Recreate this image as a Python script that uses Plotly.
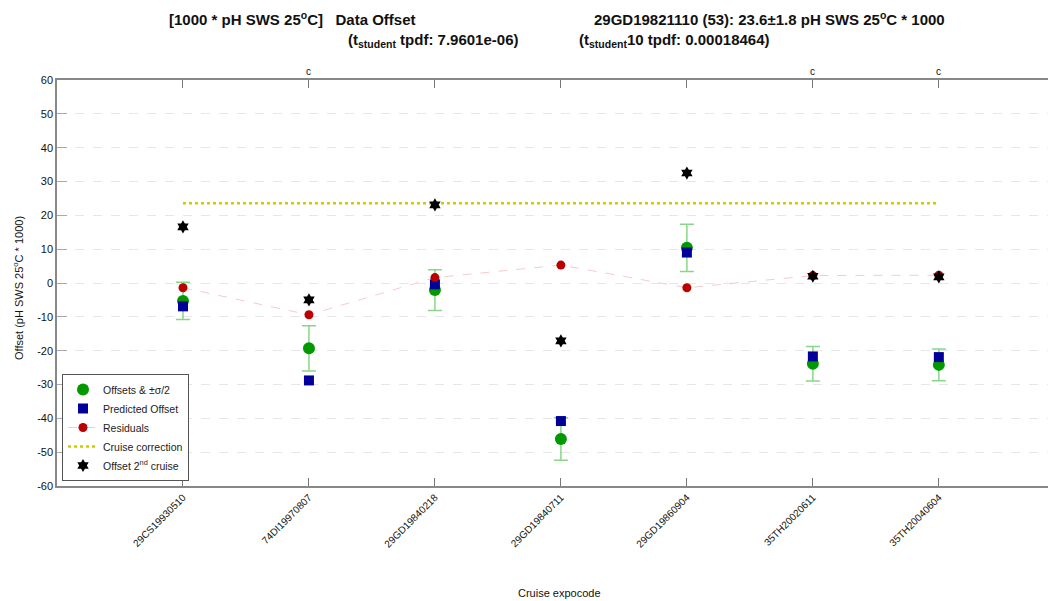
import plotly.graph_objects as go

cruises = ["29CS19930510", "74DI19970807", "29GD19840218", "29GD19840711",
           "29GD19860904", "35TH20020611", "35TH20040604"]
offsets = [-5.3, -19.3, -2.1, -46.1, 10.4, -23.9, -24.2]
err_half = [5.5, 6.7, 6.0, 6.3, 7.0, 5.1, 4.7]
predicted = [-6.9, -28.8, -0.4, -40.8, 9.0, -21.7, -21.9]
residuals = [-1.4, -9.4, 1.6, 5.3, -1.4, 2.2, 2.3]
second_cruise = [16.6, -5.0, 23.1, -17.1, 32.5, 2.0, 1.8]
correction = 23.6
top_labels = ["", "c", "", "", "", "c", "c"]
y_ticks = [-60, -50, -40, -30, -20, -10, 0, 10, 20, 30, 40, 50, 60]

xs = list(range(1, len(cruises) + 1))
FONT = "Liberation Sans, Arial, sans-serif"

fig = go.Figure()
fig.add_trace(go.Scatter(
    x=xs, y=offsets, mode="markers", name="Offsets & ±σ/2",
    marker=dict(symbol="circle", size=12, color="#009900"),
    error_y=dict(type="data", array=err_half, visible=True,
                 color="rgba(40,180,40,0.55)", thickness=1.5, width=7),
))
fig.add_trace(go.Scatter(
    x=xs, y=predicted, mode="markers", name="Predicted Offset",
    marker=dict(symbol="square", size=10, color="#000099"),
))
fig.add_trace(go.Scatter(
    x=xs, y=residuals, mode="lines+markers", name="Residuals",
    marker=dict(symbol="circle", size=9, color="#bb0000"),
    line=dict(color="rgba(230,140,140,0.45)", width=1, dash="dash"),
))
fig.add_trace(go.Scatter(
    x=[xs[0], xs[-1]], y=[correction, correction], mode="lines",
    name="Cruise correction",
    line=dict(color="#cccc00", width=2.5, dash="dot"),
))
fig.add_trace(go.Scatter(
    x=xs, y=second_cruise, mode="markers", name="Offset 2<sup>nd</sup> cruise",
    marker=dict(symbol="hexagram", size=10, color="black"),
))

# screen pixel -> paper coordinates of the plot area (57..1056, 80..486)
def px_x(p):
    return (p - 57) / 999.0

def px_y(p):
    return (486 - p) / 406.0

# page body has an 8px default margin: figure is drawn at (8, 8)
fig.update_layout(
    width=1048, height=593,
    margin=dict(l=49, r=0, t=72, b=115),
    paper_bgcolor="white", plot_bgcolor="white",
    font=dict(family=FONT, size=11, color="#222222"),
    showlegend=True,
    legend=dict(x=px_x(62), y=px_y(481), xanchor="left", yanchor="bottom",
                bordercolor="#555555", borderwidth=1, bgcolor="white",
                font=dict(size=10.5, family=FONT), tracegroupgap=0),
)
fig.update_xaxes(
    range=[0, 7.93], tickvals=xs, ticktext=cruises, tickangle=-45,
    ticks="inside", ticklen=8, tickcolor="#777777", automargin=False,
    showline=True, linecolor="#888888", linewidth=1.5, mirror="ticks",
    showgrid=False, zeroline=False,
    tickfont=dict(size=10, family=FONT, color="#111111"),
)
fig.update_yaxes(
    range=[-60, 60], tickvals=y_ticks, ticktext=[str(v) for v in y_ticks],
    ticks="inside", ticklen=10, automargin=False,
    tickcolor="#aaaaaa", showline=True, linecolor="#888888", linewidth=1.5,
    showgrid=True, gridcolor="#e6e6e6", griddash="dash", gridwidth=1,
    zeroline=False, tickfont=dict(size=11, family=FONT, color="#111111"),
)

anns = []
for xv, lab in zip(xs, top_labels):
    if lab:
        anns.append(dict(x=xv, y=1.0, xref="x", yref="paper", text=lab,
                         showarrow=False, yanchor="bottom", yshift=1,
                         font=dict(size=10, family=FONT, color="#111111")))

title_font = dict(size=15, family=FONT, color="#111111")
anns += [
    dict(x=px_x(167), y=px_y(19), xref="paper", yref="paper", xanchor="left",
         yanchor="middle", showarrow=False, font=title_font,
         text="<b>[1000 * pH SWS 25<sup>o</sup>C]   Data Offset</b>"),
    dict(x=px_x(346), y=px_y(41), xref="paper", yref="paper", xanchor="left",
         yanchor="middle", showarrow=False, font=title_font,
         text="<b>(t<sub>student</sub> tpdf: 7.9601e-06)</b>"),
    dict(x=px_x(592), y=px_y(19), xref="paper", yref="paper", xanchor="left",
         yanchor="middle", showarrow=False, font=title_font,
         text="<b>29GD19821110 (53): 23.6±1.8 pH SWS 25<sup>o</sup>C * 1000</b>"),
    dict(x=px_x(577), y=px_y(41), xref="paper", yref="paper", xanchor="left",
         yanchor="middle", showarrow=False, font=title_font,
         text="<b>(t<sub>student</sub>10 tpdf: 0.00018464)</b>"),
    dict(x=px_x(559), y=px_y(593), xref="paper", yref="paper", xanchor="center",
         yanchor="middle", showarrow=False,
         font=dict(size=11, family=FONT, color="#111111"),
         text="Cruise expocode"),
    dict(x=px_x(18), y=px_y(288), xref="paper", yref="paper", xanchor="center",
         yanchor="middle", showarrow=False, textangle=-90,
         font=dict(size=11, family=FONT, color="#111111"),
         text="Offset (pH SWS 25<sup>o</sup>C * 1000)"),
]
fig.update_layout(annotations=anns)

fig.write_html("out.html")
